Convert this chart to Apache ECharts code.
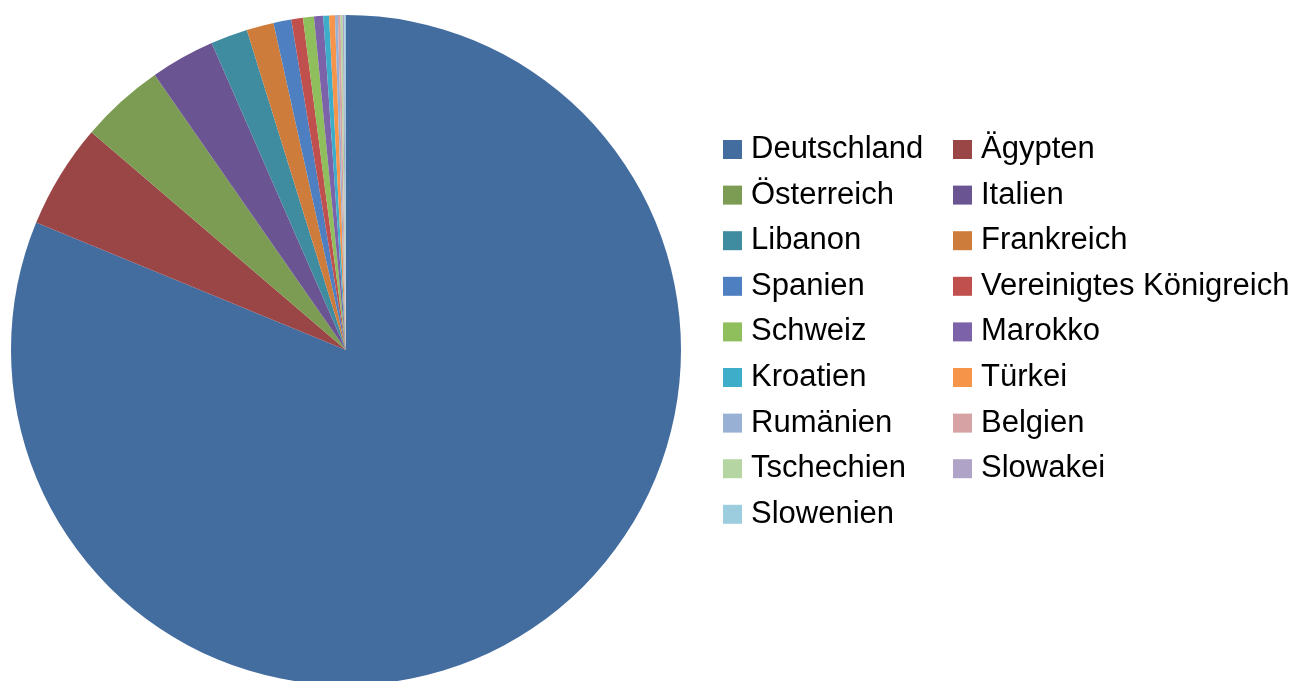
<!DOCTYPE html>
<html>
<head>
<meta charset="utf-8">
<script src="https://cdn.jsdelivr.net/npm/echarts@6/dist/echarts.min.js"></script>
<style>
html,body{margin:0;padding:0;background:#fff;}
#c{width:1297px;height:681px;}
</style>
</head>
<body>
<div id="c"></div>
<script>
const countries = ["Deutschland","Ägypten","Österreich","Italien","Libanon","Frankreich","Spanien","Vereinigtes Königreich","Schweiz","Marokko","Kroatien","Türkei","Rumänien","Belgien","Tschechien","Slowakei","Slowenien"];
const shares = [81.22,5.06,4.06,3.11,1.78,1.31,0.86,0.56,0.53,0.44,0.28,0.28,0.14,0.125,0.10,0.08,0.08];
const colors = ["#436C9F","#9B4646","#7B9C52","#6A5592","#3F8B9F","#CD7C3B","#4E7FC0","#C0504D","#8FBF5C","#7C62A8","#3EADC9","#F6954A","#98B0D4","#D6A2A3","#B5D6A3","#AFA4C8","#9CCDDE"];

const col1 = countries.filter((_, i) => i % 2 === 0);
const col2 = countries.filter((_, i) => i % 2 === 1);

const legendBase = {
  orient: 'vertical',
  top: 128.5,
  itemWidth: 19,
  itemHeight: 19,
  itemGap: 13.6,
  icon: 'rect',
  selectedMode: false,
  textStyle: {fontFamily: 'Liberation Sans, Arial, sans-serif', fontSize: 31, color: '#000', lineHeight: 32, padding: [0, 0, 0, 4]}
};

const chart = echarts.init(document.getElementById('c'), null, {renderer: 'canvas'});
chart.setOption({
  animation: false,
  color: colors,
  legend: [
    Object.assign({}, legendBase, {left: 718, data: col1}),
    Object.assign({}, legendBase, {left: 948, data: col2})
  ],
  series: [{
    type: 'pie',
    center: [346, 350],
    radius: [0, 335],
    startAngle: 90,
    clockwise: true,
    label: {show: false},
    labelLine: {show: false},
    itemStyle: {borderWidth: 0},
    emphasis: {disabled: true},
    data: countries.map((n, i) => ({name: n, value: shares[i]}))
  }]
});
</script>
</body>
</html>
